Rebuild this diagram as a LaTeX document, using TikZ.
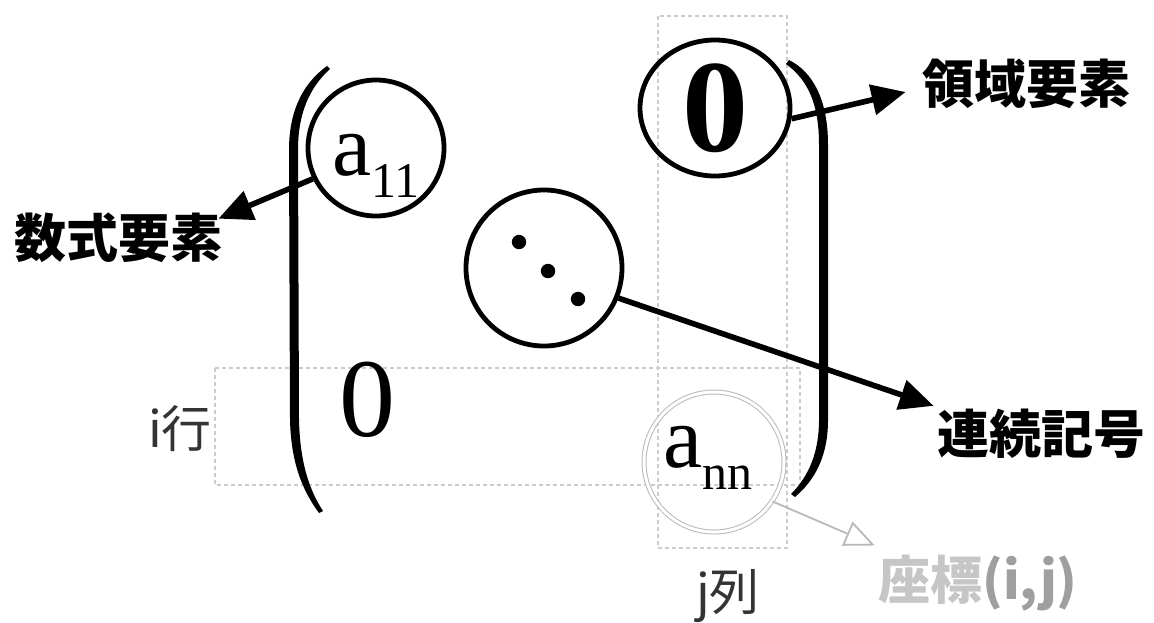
\documentclass[tikz,border=0pt]{standalone}
\usepackage{fontspec}
\setmainfont{Liberation Serif}
\newfontfamily\cjk{Noto Sans CJK JP}
\usetikzlibrary{arrows.meta,shapes.geometric,calc}
\newcommand{\entry}[2]{{\fontsize{44}{44}\selectfont #1}\raisebox{-11pt}{\fontsize{25}{25}\selectfont #2}}

\begin{document}
\begin{tikzpicture}[x=0.5pt,y=-0.5pt,
  circ/.style={draw,circle,line width=2.4pt,inner sep=0pt},
  guide/.style={draw=gray!40,line width=0.6pt,dash pattern=on 2pt off 1.5pt},
  lbl/.style={font=\cjk\bfseries\fontsize{26}{26}\selectfont,inner sep=0pt},
  call/.style={-{Triangle[length=17pt,width=15pt]},line width=2.8pt},
  >={Triangle[length=17pt,width=15pt]}]
\useasboundingbox (0,0) rectangle (1154,622);
% row i and column j
\draw[guide] (215,368) rectangle (800,485);
\draw[guide] (658,16) rectangle (787,548);
% matrix brackets
\fill (327,66) .. controls (302,84) and (289,112) .. (289,150) -- (290,420)
  .. controls (291,462) and (302,490) .. (319,513) -- (323,511)
  .. controls (308,488) and (300,460) .. (299,420) -- (298,150)
  .. controls (298,114) and (309,88) .. (330,69) -- cycle;
\fill (789,60) .. controls (813,72) and (828,100) .. (828,145) -- (828,420)
  .. controls (828,456) and (815,480) .. (795,497) -- (791,494)
  .. controls (809,476) and (819,452) .. (819,420) -- (819,145)
  .. controls (819,104) and (808,80) .. (786,64) -- cycle;
% entries
\node[circ,minimum size=68pt] (a11) at (376,148) {};
\node (a11txt) at ($(a11)+(0,18)$) {\entry{a}{11}};
\node[circ,ellipse,minimum width=75pt,minimum height=68pt] (z12) at (715,108)
   {\fontsize{66}{66}\selectfont\bfseries 0};
\node[circ,minimum size=78pt] (dots) at (544,268) {};
\fill ($(dots)+(-25,-26)$) circle (3.6pt);
\fill ($(dots)+(4,3)$) circle (3.6pt);
\fill ($(dots)+(34,31)$) circle (3.6pt);
\node (z21) at (367,400) {\fontsize{56}{56}\selectfont 0};
\node[circle,draw=gray!55,line width=0.5pt,double=white,double distance=1.5pt,
   minimum size=70pt,inner sep=0pt] (ann) at (714,462) {};
\node (anntxt) at ($(ann)+(-6,-4)$) {\entry{a}{nn}};
% labels
\node[lbl] (sushiki) at (118,238) {数式要素};
\node[lbl] (ryoiki) at (1026,84) {領域要素};
\node[lbl] (renzoku) at (1041,434) {連続記号};
\node[lbl,text=gray!45] (zahyo) at (978,583) {座標{\color{gray!75}(i,j)}};
\node[font=\cjk\fontsize{25}{25}\selectfont,text=black!80] (gyo) at (180,429) {i行};
\node[font=\cjk\fontsize{25}{25}\selectfont,text=black!80] (retsu) at (728,596) {j列};
% callouts
\draw[call] (a11.206) -- ($(sushiki.north east)+(-4,6)$);
\draw[call] (z12.-8) -- ($(ryoiki.west)+(-16,8)$);
\draw[call] (dots.-22) -- ($(renzoku.north west)+(-3,-3)$);
\draw[-{Triangle[open,length=15pt,width=13pt]},draw=gray!55,line width=0.9pt]
   (ann.-34) -- ($(zahyo.north west)+(-3,-9)$);
\end{tikzpicture}
\end{document}
